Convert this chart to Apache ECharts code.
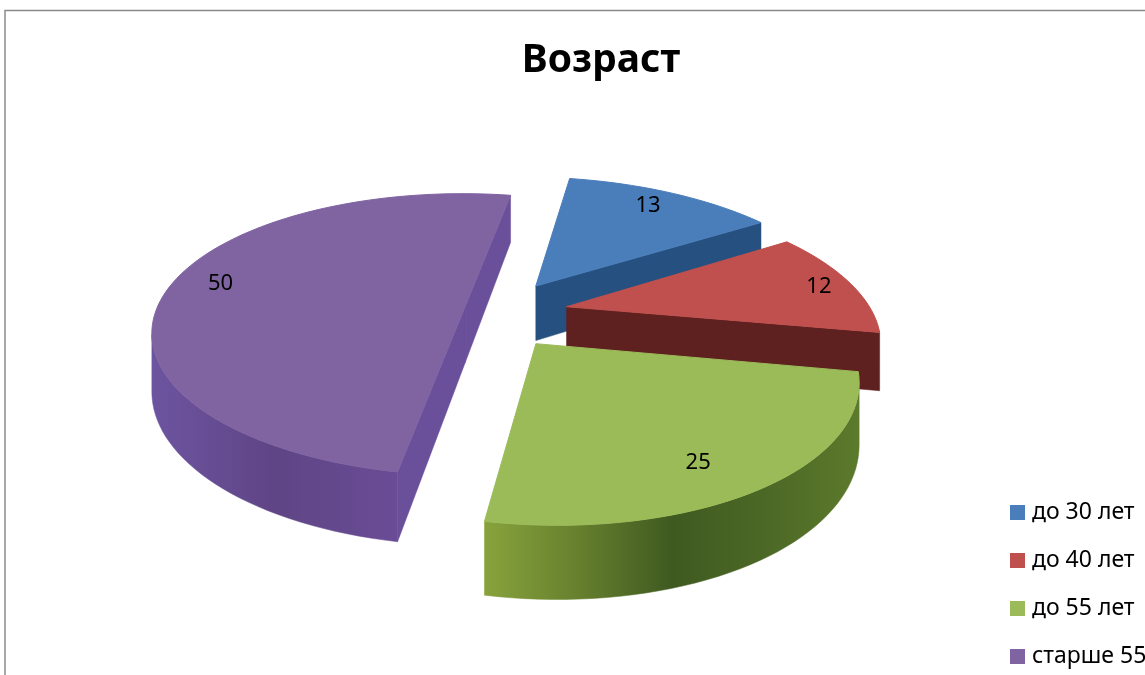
<!DOCTYPE html>
<html>
<head>
<meta charset="utf-8">
<style>
  html, body { margin: 0; padding: 0; background: #fff; overflow: hidden; }
  #chart { width: 1145px; height: 675px; }
</style>
<script src="https://cdn.jsdelivr.net/npm/echarts@6/dist/echarts.min.js"></script>
</head>
<body>
<div id="chart"></div>
<script>
const ageGroups = ['до 30 лет', 'до 40 лет', 'до 55 лет', 'старше 55'];
const ageValues = [13, 12, 25, 50];

const topColors = ['#4a7ebb', '#c0504d', '#9bbb59', '#8064a2'];
const rimStops = [
  ['#2a5a8e', '#234a75'],
  ['#6e2826', '#5a1f1e'],
  ['#88a33c', '#66802e', '#3f5a20', '#4c6826', '#5c7a2b'],
  ['#6d54a0', '#5f4585', '#6a4c96']
];
const edgeColors = ['#26507f', '#5e2120', '#5c7a2b', '#6a4f9a'];
// how far each slice is pulled out of the pie, in disc units
const sliceOffsets = [[0.28, -0.135], [0.37, 0.02], [0.258, 0.275], [0.045, 0.02]];
const sliceRadius = [1.01, 0.97, 0.95, 0.985];
const labelRadius = [0.83, 0.88, 0.8, 0.82];
const labelNudge = [[-2, -2], [-5, 2], [-24, 2], [0, -3]];
// back slices first so the front ones cover them
const drawOrder = [0, 1, 3, 2];

const firstAngle = 10.7;
const total = ageValues.reduce((a, b) => a + b, 0);

// perspective of the tilted disc
const view = { cx: 451, cy: 304, scale: 311, tilt: 0.4386, depth: 0.2, height: 56 };

function project(x, y, lower) {
  const w = 1 - view.depth * y;
  return [
    view.cx + view.scale * x / w,
    view.cy + view.scale * view.tilt * y / w + (lower ? view.height / w : 0)
  ];
}

function onDisc(i, deg, r) {
  const a = deg * Math.PI / 180;
  return [sliceOffsets[i][0] + r * Math.sin(a), sliceOffsets[i][1] - r * Math.cos(a)];
}

function rimFill(i) {
  const stops = rimStops[i];
  return new echarts.graphic.LinearGradient(0, 0, 1, 0, stops.map((color, k) => ({
    offset: k / (stops.length - 1),
    color
  })));
}

function renderSlice(params, api) {
  const i = params.seriesIndex;
  const value = api.value(0);
  const before = ageValues.slice(0, i).reduce((a, b) => a + b, 0);
  const start = firstAngle + before / total * 360;
  const end = start + value / total * 360;

  const tip = sliceOffsets[i];
  const rim = [];
  for (let deg = start; deg < end; deg += 2) rim.push(onDisc(i, deg, sliceRadius[i]));
  rim.push(onDisc(i, end, sliceRadius[i]));

  const children = [];
  const wall = (run, fill) => {
    const upper = run.map(p => project(p[0], p[1]));
    const lower = run.map(p => project(p[0], p[1], true)).reverse();
    children.push({
      type: 'polygon',
      shape: { points: upper.concat(lower) },
      style: { fill, stroke: fill, lineWidth: 0.5 }
    });
  };
  const facing = (a, b) => project(b[0], b[1])[0] < project(a[0], a[1])[0];

  // side walls, only the ones turned toward the viewer
  if (facing(tip, rim[0])) wall([tip, rim[0]], edgeColors[i]);
  if (facing(rim[rim.length - 1], tip)) wall([rim[rim.length - 1], tip], edgeColors[i]);
  let run = [];
  for (let k = 0; k < rim.length - 1; k++) {
    if (facing(rim[k], rim[k + 1])) {
      if (!run.length) run.push(rim[k]);
      run.push(rim[k + 1]);
    } else if (run.length) {
      wall(run, rimFill(i));
      run = [];
    }
  }
  if (run.length) wall(run, rimFill(i));

  children.push({
    type: 'polygon',
    shape: { points: [tip].concat(rim).map(p => project(p[0], p[1])) },
    style: { fill: topColors[i], stroke: topColors[i], lineWidth: 1 }
  });

  const mid = (start + end) / 2;
  const lp = onDisc(i, mid, labelRadius[i]);
  const pos = project(lp[0], lp[1]);
  children.push({
    type: 'text',
    style: {
      x: pos[0] + labelNudge[i][0],
      y: pos[1] + labelNudge[i][1],
      text: String(value),
      fill: '#000',
      font: '22px "Noto Sans"',
      align: 'center',
      verticalAlign: 'middle'
    }
  });

  return { type: 'group', children };
}

const chart = echarts.init(document.getElementById('chart'));
chart.setOption({
  animation: false,
  backgroundColor: '#fff',
  title: {
    text: 'Возраст',
    left: 596,
    top: 36,
    textAlign: 'center',
    textStyle: { fontFamily: 'Noto Sans', fontWeight: 'bold', fontSize: 39, color: '#000' }
  },
  legend: {
    orient: 'vertical',
    left: 1005,
    top: 496,
    icon: 'rect',
    itemWidth: 15,
    itemHeight: 15,
    itemGap: 25,
    data: ageGroups,
    selectedMode: false,
    textStyle: { fontFamily: 'Noto Sans', fontSize: 23, color: '#000', padding: [0, 0, 0, 2] }
  },
  graphic: [{
    type: 'rect',
    silent: true,
    shape: { x: 5, y: 10.5, width: 1300, height: 900 },
    style: { fill: 'none', stroke: '#8a8a8a', lineWidth: 1.5 }
  }],
  series: ageGroups.map((name, i) => ({
    type: 'custom',
    name,
    coordinateSystem: 'none',
    renderItem: renderSlice,
    data: [ageValues[i]],
    z: 2 + drawOrder.indexOf(i),
    itemStyle: { color: topColors[i] }
  }))
});
</script>
</body>
</html>
